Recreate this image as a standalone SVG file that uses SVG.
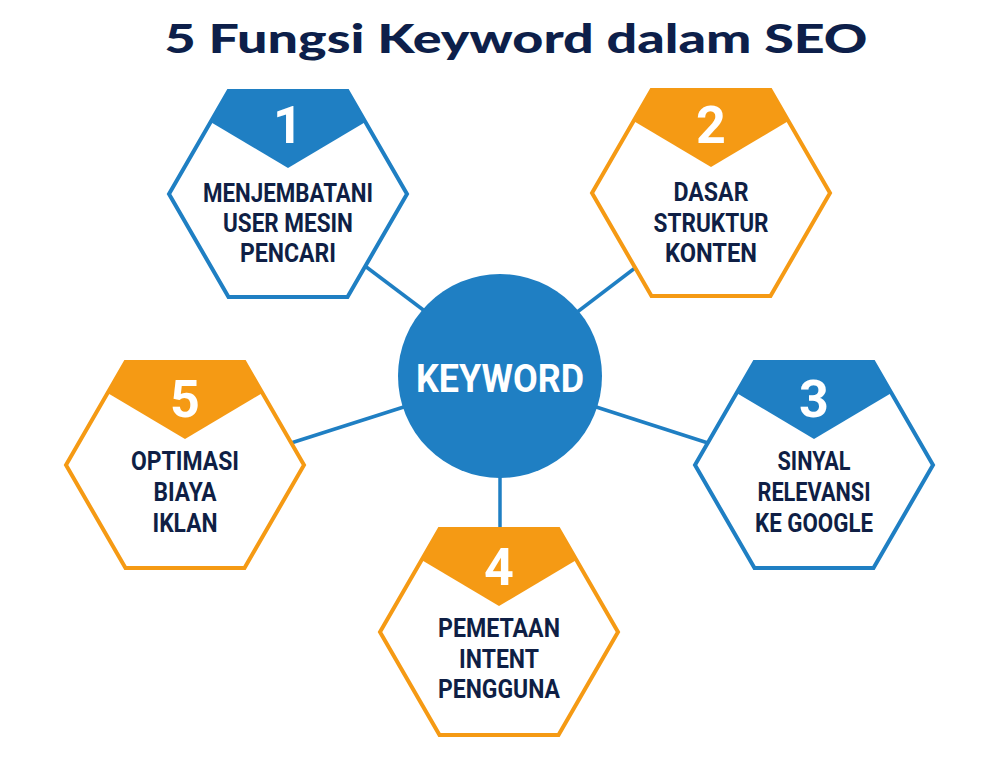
<svg xmlns="http://www.w3.org/2000/svg" width="1000" height="770" viewBox="0 0 1000 770">
<style>
.bg{fill:#ffffff}
.title{font-family:Lato,"Open Sans","Liberation Sans",sans-serif;font-weight:900;font-size:40px;fill:#0d1f4a}
.hexB{fill:#ffffff;stroke:#1f7fc3;stroke-width:4;stroke-linejoin:miter}
.hexO{fill:#ffffff;stroke:#f59a14;stroke-width:4;stroke-linejoin:miter}
.hdB{fill:#1f7fc3}
.hdO{fill:#f59a14}
.num{font-family:Roboto,"Liberation Sans",sans-serif;font-weight:700;font-size:52px;fill:#ffffff;text-anchor:middle}
.lbl{font-family:Roboto,"Liberation Sans",sans-serif;font-weight:700;font-size:25px;fill:#0f1f45;text-anchor:middle}
.kw{font-family:Roboto,"Liberation Sans",sans-serif;font-weight:700;font-size:39px;fill:#ffffff;text-anchor:middle}
.conn line{stroke:#1f7fc3;stroke-width:3.5}
</style>
<rect class="bg" x="0" y="0" width="1000" height="770"/>
<text class="title" x="516" y="53" text-anchor="middle" textLength="703" lengthAdjust="spacingAndGlyphs">5 Fungsi Keyword dalam SEO</text>

<g id="connectors" class="conn">
<line x1="365" y1="266" x2="430" y2="315"/>
<line x1="635" y1="268" x2="572" y2="316"/>
<line x1="291" y1="443" x2="410" y2="405"/>
<line x1="708" y1="443" x2="590" y2="405"/>
<line x1="500" y1="470" x2="500" y2="529"/>
</g>

<g id="center">
<circle cx="500" cy="376" r="102" fill="#1f7fc3"/>
<text class="kw" x="500" y="392" textLength="168" lengthAdjust="spacingAndGlyphs">KEYWORD</text>
</g>

<g id="node1">
<polygon class="hexB" points="228.5,91 347.5,91 407,194 347.5,297 228.5,297 169,194"/>
<polygon class="hdB" points="228.5,91 347.5,91 365.4,122 288,168 210.6,122"/>
<text class="num" x="288" y="143">1</text>
<text class="lbl" x="288" y="202" textLength="170" lengthAdjust="spacingAndGlyphs">MENJEMBATANI</text>
<text class="lbl" x="288" y="232" textLength="130" lengthAdjust="spacingAndGlyphs">USER MESIN</text>
<text class="lbl" x="288" y="262" textLength="96" lengthAdjust="spacingAndGlyphs">PENCARI</text>
</g>

<g id="node2">
<polygon class="hexO" points="651.5,90 770.5,90 830,193 770.5,296 651.5,296 592,193"/>
<polygon class="hdO" points="651.5,90 770.5,90 788.4,121 711,167 633.6,121"/>
<text class="num" x="711" y="143">2</text>
<text class="lbl" x="711" y="201" textLength="75" lengthAdjust="spacingAndGlyphs">DASAR</text>
<text class="lbl" x="711" y="232" textLength="115" lengthAdjust="spacingAndGlyphs">STRUKTUR</text>
<text class="lbl" x="711" y="262" textLength="92" lengthAdjust="spacingAndGlyphs">KONTEN</text>
</g>

<g id="node3">
<polygon class="hexB" points="754.5,362 873.5,362 933,465 873.5,568 754.5,568 695,465"/>
<polygon class="hdB" points="754.5,362 873.5,362 891.4,393 814,439 736.6,393"/>
<text class="num" x="814" y="417">3</text>
<text class="lbl" x="814" y="470" textLength="73" lengthAdjust="spacingAndGlyphs">SINYAL</text>
<text class="lbl" x="814" y="501" textLength="113" lengthAdjust="spacingAndGlyphs">RELEVANSI</text>
<text class="lbl" x="814" y="532" textLength="118" lengthAdjust="spacingAndGlyphs">KE GOOGLE</text>
</g>

<g id="node4">
<polygon class="hexO" points="439.5,529 558.5,529 618,632 558.5,735 439.5,735 380,632"/>
<polygon class="hdO" points="439.5,529 558.5,529 576.4,560 499,606 421.6,560"/>
<text class="num" x="499" y="585">4</text>
<text class="lbl" x="499" y="637" textLength="122" lengthAdjust="spacingAndGlyphs">PEMETAAN</text>
<text class="lbl" x="499" y="668" textLength="80" lengthAdjust="spacingAndGlyphs">INTENT</text>
<text class="lbl" x="499" y="698" textLength="122" lengthAdjust="spacingAndGlyphs">PENGGUNA</text>
</g>

<g id="node5">
<polygon class="hexO" points="125.5,362 244.5,362 304,465 244.5,568 125.5,568 66,465"/>
<polygon class="hdO" points="125.5,362 244.5,362 262.4,393 185,439 107.6,393"/>
<text class="num" x="185" y="417">5</text>
<text class="lbl" x="185" y="470" textLength="108" lengthAdjust="spacingAndGlyphs">OPTIMASI</text>
<text class="lbl" x="185" y="501" textLength="63" lengthAdjust="spacingAndGlyphs">BIAYA</text>
<text class="lbl" x="185" y="532" textLength="65" lengthAdjust="spacingAndGlyphs">IKLAN</text>
</g>
</svg>
